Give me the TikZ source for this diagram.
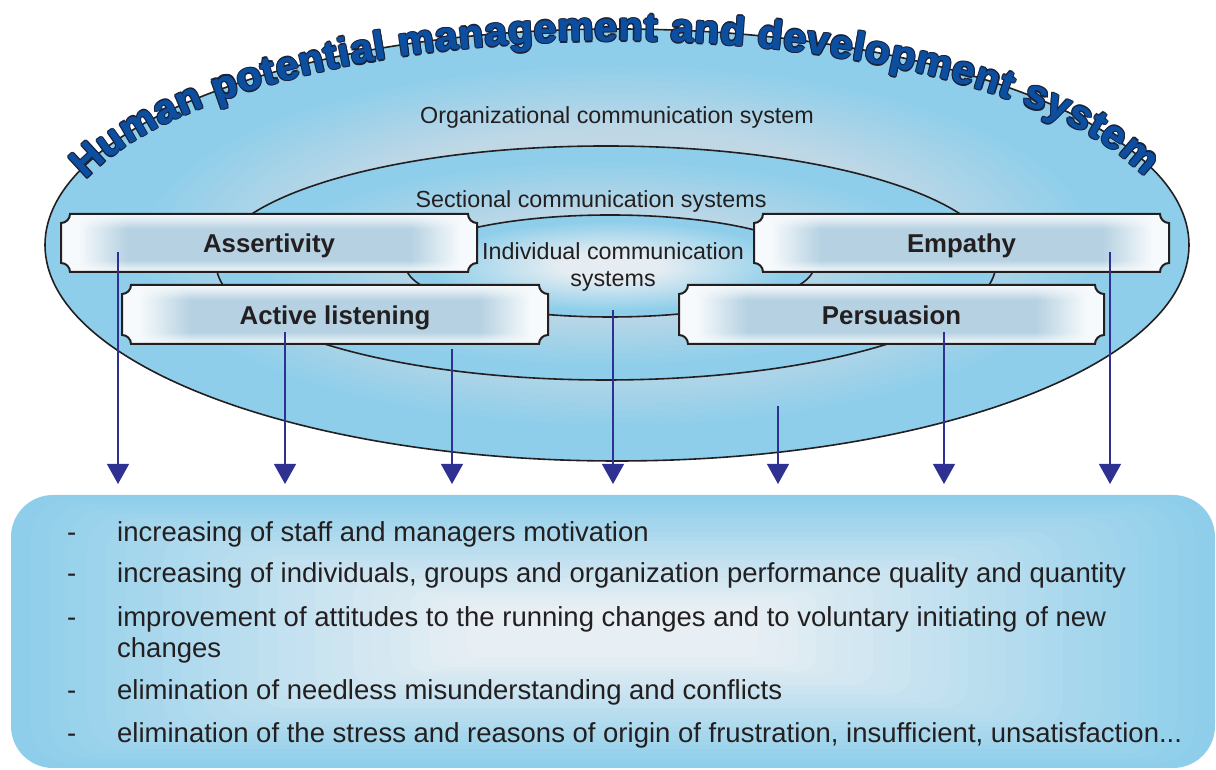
\documentclass[tikz,border=0pt]{standalone}
\usepackage{fontspec}
\setmainfont{Liberation Sans}
\usetikzlibrary{arrows.meta,decorations.text,fadings}

\definecolor{ellBlue}{RGB}{142,206,234}
\definecolor{ellLight}{RGB}{192,216,230}
\definecolor{inLight}{RGB}{230,237,242}
\definecolor{boxMid}{RGB}{182,210,226}
\definecolor{boxWhite}{RGB}{247,250,252}
\definecolor{lineDark}{RGB}{35,31,32}
\definecolor{arrowBlue}{RGB}{46,49,146}
\definecolor{titleBlue}{RGB}{12,78,160}
\definecolor{titleEdge}{RGB}{25,35,60}
\definecolor{botBlue}{RGB}{142,206,234}
\definecolor{botLight}{RGB}{236,240,244}
\definecolor{txt}{RGB}{35,31,32}

\pgfdeclareradialshading{outerSh}{\pgfpointorigin}{color(0bp)=(ellLight); color(13bp)=(ellLight); color(21bp)=(ellBlue); color(50bp)=(ellBlue)}
\pgfdeclareradialshading{midSh}{\pgfpointorigin}{color(0bp)=(ellLight); color(10bp)=(ellLight); color(22bp)=(ellBlue); color(50bp)=(ellBlue)}
\pgfdeclareradialshading{innerSh}{\pgfpointorigin}{color(0bp)=(inLight); color(6bp)=(inLight); color(22bp)=(ellBlue); color(50bp)=(ellBlue)}
\pgfdeclarehorizontalshading{boxSh}{100bp}{color(0bp)=(boxWhite); color(25bp)=(boxWhite); color(27bp)=(boxWhite); color(33bp)=(boxMid); color(67bp)=(boxMid); color(73bp)=(boxWhite); color(75bp)=(boxWhite); color(100bp)=(boxWhite)}
\tikzfading[name=topWhite, top color=transparent!0, bottom color=transparent!100]
\tikzfading[name=botWhite, top color=transparent!100, bottom color=transparent!0]

\newcommand\titlesize{\bfseries\fontsize{40.5}{46}\selectfont}
\newcommand\regsize{\fontsize{23.3}{28}\selectfont}
\newcommand\bulsize{\fontsize{27.5}{33}\selectfont}

\tikzset{
  ell/.style={draw=lineDark, line width=1.6pt},
  boxline/.style={draw=lineDark, line width=2pt},
  boxlabel/.style={font=\bfseries\fontsize{25.8}{30}\selectfont, text=txt, inner sep=0pt, anchor=base},
  regtext/.style={font=\regsize, text=txt, inner sep=0pt, anchor=base},
  bultext/.style={font=\bulsize, text=txt, inner sep=0pt, anchor=base west},
  arr/.style={draw=arrowBlue, line width=1.2pt, -{Triangle[width=22pt,length=20pt,fill=arrowBlue]}},
}

\newcommand\scrollpath[4]{({#1+9},#4) -- ({#3-9},#4) arc[start angle=180,end angle=270,radius=9] -- (#3,{#2+9}) arc[start angle=90,end angle=180,radius=9] -- ({#1+9},#2) arc[start angle=0,end angle=90,radius=9] -- (#1,{#4-9}) arc[start angle=270,end angle=360,radius=9] -- cycle}

\newcommand\scrollbox[6]{%
  \begin{scope}
    \clip \scrollpath{#2}{#3}{#4}{#5};
    \shade[shading=boxSh] (#2,#3) rectangle (#4,#5);
    \fill[boxWhite, path fading=topWhite] (#2,{#5-15}) rectangle (#4,#5);
    \fill[boxWhite, path fading=botWhite] (#2,#3) rectangle (#4,{#3+12});
  \end{scope}
  \draw[boxline] \scrollpath{#2}{#3}{#4}{#5};
  \node[boxlabel] (#1) at ({(#2+#4)/2},{(#3+#5)/2-10}) {#6};
}

\newcommand\titlearc[3]{%
  \path[shift={(#1,#2)}, decorate, decoration={text along path, text color=#3, text align=fit to path,
    text={|\titlesize|Human potential management and development system}}]
    ({617+560*cos(161.5)},{525+204*sin(161.5)}) arc[start angle=161.5, end angle=19.5, x radius=560, y radius=204];
}

\begin{document}
\begin{tikzpicture}[x=1pt,y=1pt]
\useasboundingbox (0,0) rectangle (1216,770);

% ellipses
\shade[shading=outerSh] (617,525) ellipse [x radius=572, y radius=216];
\draw[ell] (617,525) ellipse [x radius=572, y radius=216];
\shade[shading=midSh] (606,507) ellipse [x radius=390, y radius=117];
\draw[ell] (606,507) ellipse [x radius=390, y radius=117];
\shade[shading=innerSh] (610,504) ellipse [x radius=204, y radius=51];
\draw[ell] (610,504) ellipse [x radius=204, y radius=51];

% ellipse labels
\node[regtext] (org) at (617,646) {Organizational communication system};
\node[regtext] (sec) at (591,562) {Sectional communication systems};
\node[regtext] (ind1) at (613,510) {Individual communication};
\node[regtext] (ind2) at (613,483) {systems};

% boxes
\scrollbox{assert}{61}{498}{477}{556}{Assertivity}
\scrollbox{empathy}{754}{498}{1169}{556}{Empathy}
\scrollbox{active}{122}{426}{548}{485}{Active listening}
\scrollbox{persua}{679}{426}{1104}{485}{Persuasion}

% title: dark outline copies, then blue letters
\foreach \dx/\dy in {1.5/0,-1.5/0,0/1.5,0/-1.5,1.05/1.05,1.05/-1.05,-1.05/1.05,-1.05/-1.05}{
  \titlearc{\dx}{\dy}{titleEdge}
}
\foreach \dx/\dy in {0.4/0,-0.4/0,0/0}{
  \titlearc{\dx}{\dy}{titleBlue}
}

% bottom box
\foreach \i in {0,...,24}{
  \pgfmathsetmacro\t{4*\i}
  \pgfmathsetmacro\ix{19*\i}
  \pgfmathsetmacro\iy{4.6*\i}
  \pgfmathsetmacro\rr{max(42-1.3*\i,8)}
  \fill[botLight!\t!botBlue, rounded corners=\rr pt] ({11+\ix},{2+\iy}) rectangle ({1215-\ix},{275-\iy});
}

% arrows
\coordinate (s1) at (118,518); \coordinate (e1) at (118,286);
\coordinate (s2) at (285,438); \coordinate (e2) at (285,286);
\coordinate (s3) at (452,421); \coordinate (e3) at (452,286);
\coordinate (s4) at (613,460); \coordinate (e4) at (613,286);
\coordinate (s5) at (778,364); \coordinate (e5) at (778,286);
\coordinate (s6) at (944,438); \coordinate (e6) at (944,286);
\coordinate (s7) at (1110,518); \coordinate (e7) at (1110,286);
\foreach \k in {1,...,7}{ \draw[arr] (s\k) -- (e\k); }

% bullet list
\node[bultext] (d1) at (67,228) {-};
\node[bultext] (b1) at (117,228) {increasing of staff and managers motivation};
\node[bultext] (d2) at (67,187) {-};
\node[bultext] (b2) at (117,187) {increasing of individuals, groups and organization performance quality and quantity};
\node[bultext] (d3) at (67,143) {-};
\node[bultext] (b3) at (117,143) {improvement of attitudes to the running changes and to voluntary initiating of new};
\node[bultext] (b3b) at (117,112) {changes};
\node[bultext] (d4) at (67,70) {-};
\node[bultext] (b4) at (117,70) {elimination of needless misunderstanding and conflicts};
\node[bultext] (d5) at (67,27) {-};
\node[bultext] (b5) at (117,27) {elimination of the stress and reasons of origin of frustration, insufficient, unsatisfaction...};
\end{tikzpicture}
\end{document}
